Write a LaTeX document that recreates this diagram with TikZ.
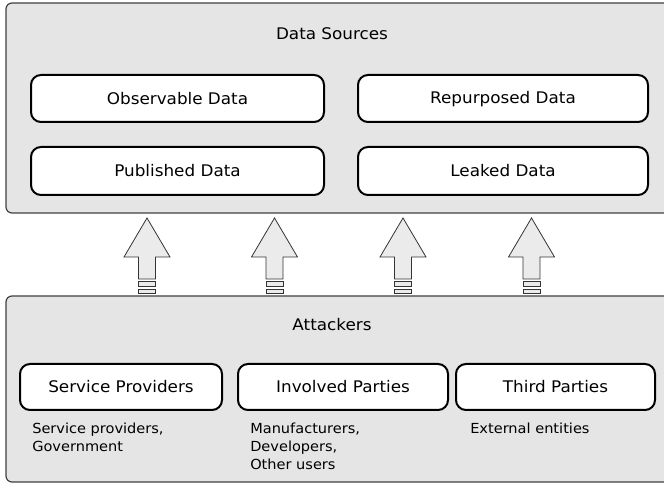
\documentclass[tikz,border=0pt]{standalone}
\usepackage{fontspec}
\setmainfont[FakeStretch=1.05]{DejaVu Sans}
\begin{document}
\begin{tikzpicture}[x=0.75pt,y=-0.75pt,
  font=\fontsize{12pt}{14pt}\selectfont,
  container/.style={draw=black!75,line width=0.9pt,fill=black!10,rounded corners=4.5pt},
  inbox/.style={draw=black,line width=1.5pt,fill=white,rounded corners=7.5pt},
  lbl/.style={inner sep=0pt,anchor=center},
  note/.style={inner sep=0pt,anchor=north west,align=left,font=\fontsize{10.4pt}{13.2pt}\selectfont},
  blockarrow/.pic={
    \draw[draw=black!80,line width=0.6pt,fill=black!8]
      (0,0) -- (23,39) -- (8.5,39) -- (8.5,61) -- (-8.5,61) -- (-8.5,39) -- (-23,39) -- cycle;
    \draw[draw=black!80,line width=0.6pt,fill=black!8] (-8.5,63) rectangle (8.5,68.5);
    \draw[draw=black!80,line width=0.6pt,fill=black!8] (-8.5,71) rectangle (8.5,75.5);
  }]
\useasboundingbox (0,0) rectangle (664,484);
% containers
\path[container] (6,3) rectangle (690,213);
\path[container] (6,296) rectangle (690,482);
\node[lbl] (ds) at (332,34) {Data Sources};
\node[lbl] (att) at (332,325) {Attackers};
% data boxes
\draw[inbox] (31,75) rectangle (324,122);
\draw[inbox] (358,75) rectangle (648,122);
\draw[inbox] (31,147) rectangle (324,195);
\draw[inbox] (358,147) rectangle (648,195);
\node[lbl] (obs) at (177.5,99) {Observable Data};
\node[lbl] (rep) at (503,99) {Repurposed Data};
\node[lbl] (pub) at (177.5,171) {Published Data};
\node[lbl] (leak) at (503,171) {Leaked Data};
% attacker boxes
\draw[inbox] (20,364) rectangle (222,410);
\draw[inbox] (238,364) rectangle (448,410);
\draw[inbox] (456,364) rectangle (655,410);
\node[lbl] (sp) at (121,387) {Service Providers};
\node[lbl] (ip) at (343,387) {Involved Parties};
\node[lbl] (tp) at (555.5,387) {Third Parties};
% notes
\node[note] (n1) at (32,423) {Service providers,\\Government};
\node[note] (n2) at (250,423) {Manufacturers,\\Developers,\\Other users};
\node[note] (n3) at (470,423) {External entities};
% block arrows
\pic at (147,218) {blockarrow};
\pic at (274.5,218) {blockarrow};
\pic at (403,218) {blockarrow};
\pic at (531.5,218) {blockarrow};
\end{tikzpicture}
\end{document}
